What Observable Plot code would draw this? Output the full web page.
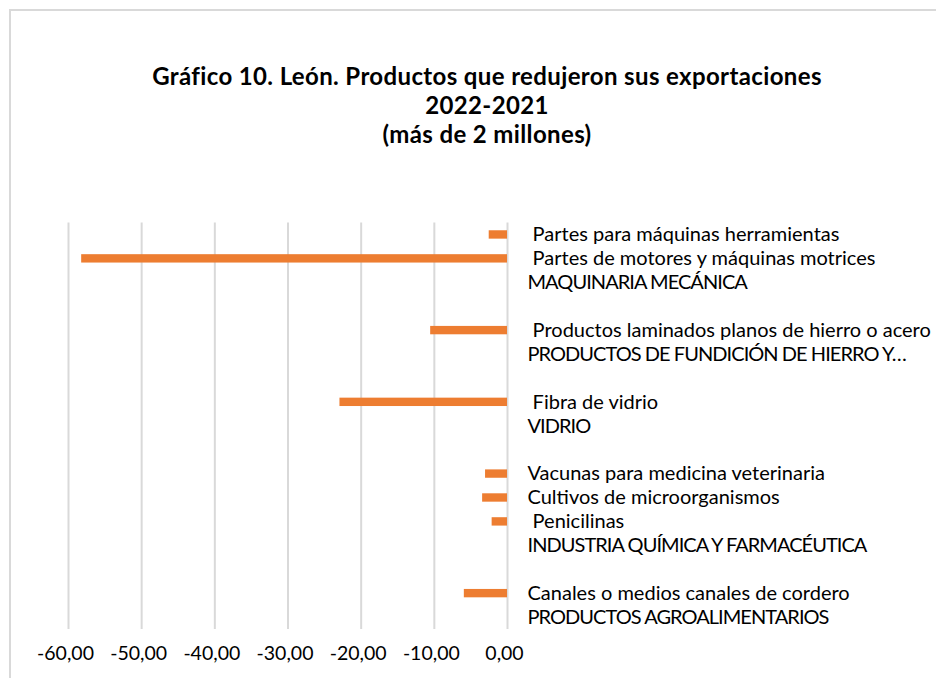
<!DOCTYPE html>
<html>
<head>
<meta charset="utf-8">
<script src="https://cdn.jsdelivr.net/npm/d3@7"></script>
<script src="https://cdn.jsdelivr.net/npm/@observablehq/plot@0.6"></script>
<style>
  html, body { margin: 0; padding: 0; background: #fff; }
  body { width: 936px; height: 678px; overflow: hidden; position: relative; font-family: Lato, "Liberation Sans", sans-serif; }
  #frame { position: absolute; left: 9px; top: 9px; width: 1200px; height: 1200px; border-left: 2px solid #d9d9d9; border-top: 2px solid #d9d9d9; }
  #title { position: absolute; left: 0; top: 0; width: 974px; height: 200px; text-align: center; font-weight: bold; font-size: 24px; letter-spacing: 0.37px; line-height: 29px; color: #000; box-sizing: border-box; padding-top: 61px; }
  #chart { position: absolute; left: 0; top: 200px; }
</style>
</head>
<body>
<div id="frame"></div>
<div id="title">Gráfico 10. León. Productos que redujeron sus exportaciones<br>2022-2021<br>(más de 2 millones)</div>
<div id="chart"></div>
<script>
const groups = [
  "MAQUINARIA MECÁNICA",
  "PRODUCTOS DE FUNDICIÓN DE HIERRO Y…",
  "VIDRIO",
  "INDUSTRIA QUÍMICA Y FARMACÉUTICA",
  "PRODUCTOS AGROALIMENTARIOS"
];
const products = [
  " Partes para máquinas herramientas",
  " Partes de motores y máquinas motrices",
  " Productos laminados planos de hierro o acero",
  " Fibra de vidrio",
  "Vacunas para medicina veterinaria",
  "Cultivos de microorganismos",
  " Penicilinas",
  "Canales o medios canales de cordero"
];
const productGroup = [0, 0, 1, 2, 3, 3, 3, 4];
const values = [-2.5, -58.2, -10.5, -22.9, -3.0, -3.4, -2.1, -5.9];
const xTicks = [-60, -50, -40, -30, -20, -10, 0];

// Build category rows (top to bottom): products, then group label, then a gap
const rows = [];
groups.forEach((g, gi) => {
  products.forEach((p, pi) => {
    if (productGroup[pi] === gi) rows.push({key: rows.length, label: p, value: values[pi], group: false});
  });
  rows.push({key: rows.length, label: g, value: null, group: true});
  if (gi < groups.length - 1) rows.push({key: rows.length, label: "", value: null, group: false});
});

const fmt = d => d.toFixed(2).replace(".", ",");

const chart = Plot.plot({
  width: 936,
  height: 478,
  marginLeft: 68,
  marginRight: 429,
  marginTop: 22.5,
  marginBottom: 49,
  style: {fontFamily: "Lato, 'Liberation Sans', sans-serif", fontSize: "20px", color: "#000", background: "transparent", overflow: "visible"},
  x: {domain: [-60, 0], label: null},
  y: {type: "band", domain: rows.map(r => r.key), paddingInner: 0.65, paddingOuter: 0.325, round: false, axis: null},
  marks: [
    Plot.gridX(xTicks, {stroke: "#d9d9d9", strokeOpacity: 1, strokeWidth: 2}),
    Plot.barX(rows.filter(r => r.value != null), {x1: 0, x2: "value", y: "key", fill: "#ED7D31"}),
    Plot.text(rows, {x: 0, y: "key", text: d => d.label.replace(/^ /, "\u00a0"), textAnchor: "start", dx: 20, fontSize: 20, fill: "#000"}),
    Plot.axisX(xTicks, {tickSize: 0, tickPadding: 17, tickFormat: fmt, fontSize: 19.5, dx: -3, fill: "#000", label: null})
  ]
});
const groupSet = new Set(groups);
d3.select(chart).selectAll("text").each(function () {
  if (groupSet.has(this.textContent)) {
    this.setAttribute("letter-spacing", "-0.95");
    this.style.letterSpacing = "-0.95px";
  }
});
document.getElementById("chart").appendChild(chart);
</script>
</body>
</html>
